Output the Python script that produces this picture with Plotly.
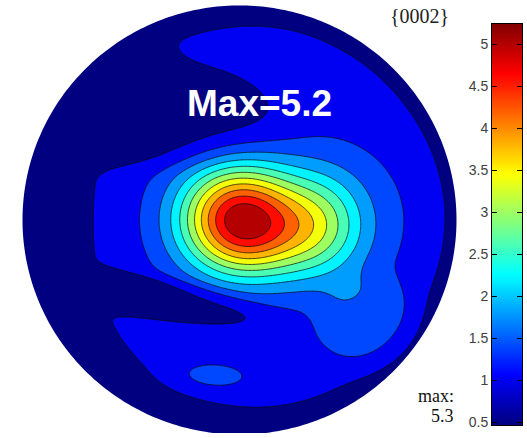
import numpy as np
import plotly.graph_objects as go

# ---- pole figure {0002}: density modelled as a superposition of components ----
# each component: centre (u, v) on the unit disc, widths, rotation (deg),
# shape exponent (2 = gaussian, larger = flatter top) and weight (m.r.d.)
background_level = 0.6
comp_name  = ["plateau", "upper gap", "left gap", "lower gap",
              "core upper", "core lower", "shoulder", "right halo",
              "lower-right lobe", "bottom spot", "upper arm"]
comp_u     = [0.08, -0.70, -1.12, -0.40, -0.005, 0.025, 0.37, 0.45, 0.58, -0.12, -0.12]
comp_v     = [0.01,  0.55,  0.05, -0.36,  0.08, -0.09, -0.02, 0.00, -0.47, -0.728, 0.79]
comp_sx    = [0.83,  0.80,  0.25,  0.47, 0.19, 0.20, 0.15, 0.28, 0.20, 0.118, 0.20]
comp_sy    = [0.88,  0.255, 0.55,  0.085, 0.145, 0.145, 0.17, 0.26, 0.18, 0.045, 0.06]
comp_rot   = [0, -5, 0, -10, 0, 0, 0, 0, 20, -3, 5]
comp_shape = [10, 6, 2, 4, 2, 2, 2, 2, 4, 2, 2]
comp_amp   = [0.5, -0.48, -0.6, -0.5, 2.4, 2.4, 1.35, 0.33, 0.4, 0.45, 0.12]

# contour levels and colour limits
level_start, level_end, level_step = 0.9, 4.9, 0.4
cmin, cmax = 0.465, 5.247
cbar_ticks = [0.5, 1, 1.5, 2, 2.5, 3, 3.5, 4, 4.5, 5]

title_text = "{0002}"
max_label = "Max=5.2"
max_note = ["max:", "5.3"]

# ---- evaluate the density on a grid ----
n = 341
ux = np.linspace(-1.03, 1.03, n)
vy = np.linspace(-1.03, 1.03, n)
U, V = np.meshgrid(ux, vy)
Z = np.full_like(U, background_level)
for u0, v0, sx, sy, rot, p, amp in zip(comp_u, comp_v, comp_sx, comp_sy,
                                       comp_rot, comp_shape, comp_amp):
    th = np.deg2rad(rot)
    du, dv = U - u0, V - v0
    a = (du * np.cos(th) + dv * np.sin(th)) / sx
    b = (-du * np.sin(th) + dv * np.cos(th)) / sy
    q = a * a + b * b
    Z += amp * np.exp(-0.5 * q ** (p / 2.0))


def jet(t):
    t = min(max(t, 0.0), 1.0)
    r = min(max(1.5 - abs(4 * t - 3), 0), 1)
    g = min(max(1.5 - abs(4 * t - 2), 0), 1)
    b = min(max(1.5 - abs(4 * t - 1), 0), 1)
    return "rgb(%d,%d,%d)" % (round(r * 255), round(g * 255), round(b * 255))


# each filled band is painted with the colour a quarter step above its lower
# level; the band below the first level takes the colour-axis minimum
levels = np.arange(level_start, level_end + 1e-9, level_step)
nc = len(levels)
band_vals = [cmin] + [lv + 0.25 * level_step for lv in levels]
step_scale = []
for j, val in enumerate(band_vals):
    col = jet((val - cmin) / (cmax - cmin))
    lo = max(0.0, (j - 0.5) / nc)
    hi = min(1.0, (j + 0.5) / nc)
    step_scale += [[lo, col], [hi, col]]

jet_scale = [[0, jet(0)], [0.125, jet(0.125)], [0.375, jet(0.375)],
             [0.625, jet(0.625)], [0.875, jet(0.875)], [1, jet(1)]]

W, H = 527, 438
# pixel geometry of the disc
cx, cy, rad = 239.5, 222.5, 217.0
px_l, px_r, px_t = 22, 457, 5
x_rng = [(px_l - cx) / rad, (px_r - cx) / rad]
y_rng = [(cy - H) / rad, (cy - px_t) / rad]

fig = go.Figure()
fig.add_trace(go.Contour(
    x=ux, y=vy, z=Z,
    autocontour=False,
    contours=dict(start=level_start, end=level_end, size=level_step,
                  coloring="fill", showlines=True),
    line=dict(color="rgba(10,10,10,0.9)", width=0.8),
    colorscale=step_scale, showscale=False, hoverinfo="skip",
    xaxis="x", yaxis="y",
))

# colour bar drawn as a thin image on its own axes
cb_vals = np.linspace(cmin, cmax, 400)
fig.add_trace(go.Heatmap(
    x=[0], y=cb_vals, z=cb_vals.reshape(-1, 1),
    colorscale=jet_scale, zmin=cmin, zmax=cmax, showscale=False,
    hoverinfo="skip", xaxis="x2", yaxis="y2",
))

# white mask outside the unit circle (evenodd hole)
ang = np.linspace(0, 2 * np.pi, 361)
ring = " ".join(("M" if i == 0 else "L") + "%.5f,%.5f" % (np.cos(a), np.sin(a))
                for i, a in enumerate(ang)) + " Z"
box = "M-2,-2 L2,-2 L2,2 L-2,2 Z"
fig.add_shape(type="path", path=box + " " + ring, xref="x", yref="y",
              fillcolor="white", line=dict(width=0), fillrule="evenodd",
              layer="above")

cb_x0, cb_x1, cb_t, cb_b = 492, 522, 24, 430
fig.update_layout(
    width=W, height=H, margin=dict(l=0, r=0, t=0, b=0),
    paper_bgcolor="white", plot_bgcolor="white", showlegend=False,
    xaxis=dict(domain=[px_l / W, px_r / W], range=x_rng, visible=False),
    yaxis=dict(domain=[0, (H - px_t) / H], range=y_rng, visible=False),
    xaxis2=dict(domain=[cb_x0 / W, cb_x1 / W], range=[-0.5, 0.5],
                showticklabels=False, ticks="", showline=True, mirror=True,
                linecolor="black", linewidth=1, showgrid=False, zeroline=False,
                anchor="y2"),
    yaxis2=dict(domain=[(H - cb_b) / H, (H - cb_t) / H], range=[cmin, cmax],
                side="left", anchor="x2", tickvals=cbar_ticks,
                ticktext=[("%g" % t) for t in cbar_ticks],
                ticks="inside", ticklen=5, tickcolor="black", mirror="ticks",
                showline=True, linecolor="black", linewidth=1,
                showgrid=False, zeroline=False,
                tickfont=dict(family="Liberation Sans, Arial", size=14,
                              color="#404040")),
)

fig.add_annotation(text=max_label, xref="paper", yref="paper",
                   x=259 / W, y=1 - 105 / H, xanchor="center", yanchor="middle",
                   showarrow=False,
                   font=dict(family="Liberation Sans, Arial", size=37,
                             color="white", weight="bold"))
fig.add_annotation(text=title_text, xref="paper", yref="paper",
                   x=451 / W, y=1 - 16 / H, xanchor="right", yanchor="middle",
                   showarrow=False,
                   font=dict(family="Liberation Serif, DejaVu Serif", size=20,
                             color="#222222"))
fig.add_annotation(text=max_note[0], xref="paper", yref="paper",
                   x=456 / W, y=1 - 401 / H, xanchor="right", yanchor="middle",
                   showarrow=False,
                   font=dict(family="Liberation Serif, DejaVu Serif", size=18,
                             color="#111111"))
fig.add_annotation(text=max_note[1], xref="paper", yref="paper",
                   x=456 / W, y=1 - 421 / H, xanchor="right", yanchor="middle",
                   showarrow=False,
                   font=dict(family="Liberation Serif, DejaVu Serif", size=18,
                             color="#111111"))

fig.write_html("out.html")
